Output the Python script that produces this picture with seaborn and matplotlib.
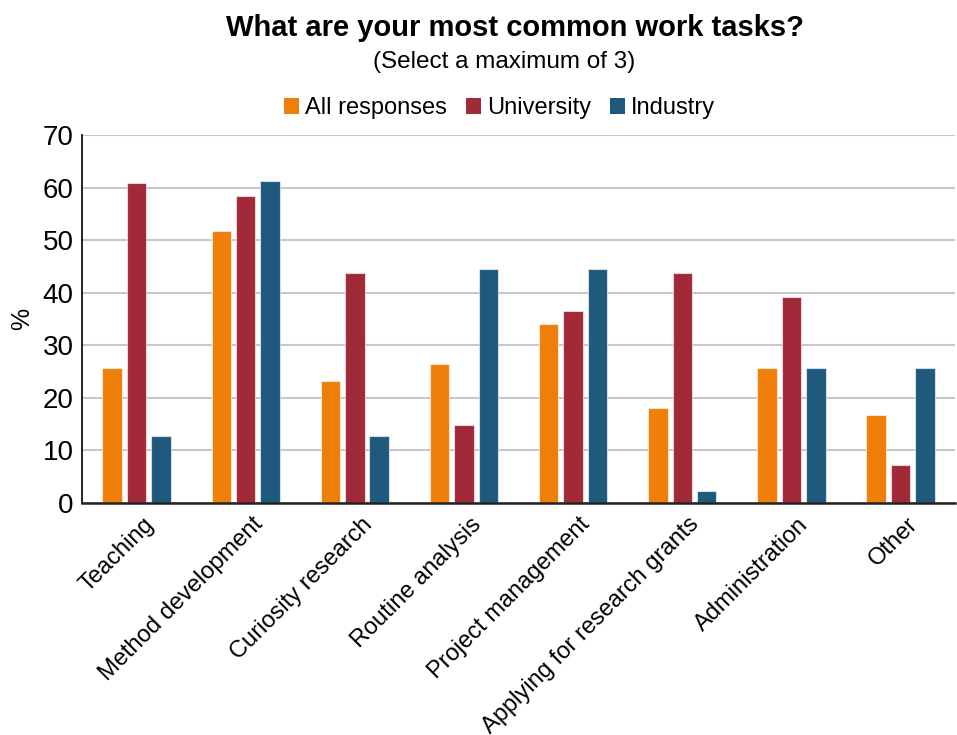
import matplotlib
matplotlib.use("Agg")
import matplotlib.pyplot as plt
import matplotlib.transforms as mtransforms
import seaborn as sns
import pandas as pd
from matplotlib.patches import Patch

# Survey results: share of respondents (%) naming each task
tasks = ["Teaching", "Method development", "Curiosity research", "Routine analysis",
         "Project management", "Applying for research grants", "Administration", "Other"]
all_responses = [25.6, 51.7, 23.2, 26.5, 34.1, 18.1, 25.6, 16.8]
university = [60.9, 58.4, 43.7, 14.8, 36.6, 43.7, 39.1, 7.2]
industry = [12.7, 61.3, 12.7, 44.5, 44.5, 2.2, 25.6, 25.6]
groups = ["All responses", "University", "Industry"]
colors = ["#F07F09", "#A22937", "#1F5A7D"]
y_ticks = [0, 10, 20, 30, 40, 50, 60, 70]

df = pd.DataFrame({
    "task": tasks * 3,
    "group": [groups[0]] * len(tasks) + [groups[1]] * len(tasks) + [groups[2]] * len(tasks),
    "pct": all_responses + university + industry,
})

sns.set_theme(style="white")
plt.rcParams["font.family"] = ["Liberation Sans", "DejaVu Sans"]
plt.rcParams["text.color"] = "black"

fig = plt.figure(figsize=(9.57, 7.35), dpi=100)
ax = fig.add_axes([0.0857, 0.3156, 0.9123, 0.5007])

sns.barplot(data=df, x="task", y="pct", hue="group", order=tasks, hue_order=groups,
            palette=colors, width=0.67, gap=0.2, saturation=1, errorbar=None,
            edgecolor=(1, 1, 1, 0.6), linewidth=0.8, legend=False, ax=ax, zorder=3)

ax.set_ylim(0, 70)
ax.set_yticks(y_ticks)
ax.set_xlim(-0.5, len(tasks) - 0.5)
ax.yaxis.grid(True, color="#C8C8C8", linewidth=1.5, zorder=0)
ax.set_axisbelow(True)
for side in ["top", "right"]:
    ax.spines[side].set_visible(False)
ax.spines["left"].set_color("black")
ax.spines["left"].set_linewidth(1.2)
ax.spines["bottom"].set_color("#222222")
ax.spines["bottom"].set_linewidth(1.8)
ax.spines["bottom"].set_zorder(5)

ax.tick_params(axis="both", length=0, colors="black")
ax.tick_params(axis="y", labelsize=20, pad=6)
ax.set_xticks(range(len(tasks)))
ax.set_xticklabels(tasks, rotation=45, ha="right", rotation_mode="anchor")
ax.tick_params(axis="x", labelsize=17, pad=9)
# nudge the slanted category labels a little to the right
shift = mtransforms.ScaledTranslation(6 / 100, 2 / 100, fig.dpi_scale_trans)
for lbl in ax.get_xticklabels():
    lbl.set_transform(lbl.get_transform() + shift)

ax.set_xlabel("")
ax.set_ylabel("%", fontsize=18, color="black")
ax.yaxis.set_label_coords(-0.069, 0.5)
ax.yaxis.label.set_verticalalignment("center")

fig.text(0.538, 0.962, "What are your most common work tasks?", ha="center", va="center",
         fontsize=21, fontweight="bold")
fig.text(0.527, 0.916, "(Select a maximum of 3)", ha="center", va="center", fontsize=17.5)

handles = [Patch(facecolor=c, edgecolor="none") for c in colors]
fig.legend(handles, groups, loc="center", bbox_to_anchor=(0.522, 0.853), ncol=3,
           frameon=False, fontsize=17, handlelength=0.65, handleheight=0.65,
           handletextpad=0.25, columnspacing=0.8)

fig.savefig("out.png", dpi=100)
